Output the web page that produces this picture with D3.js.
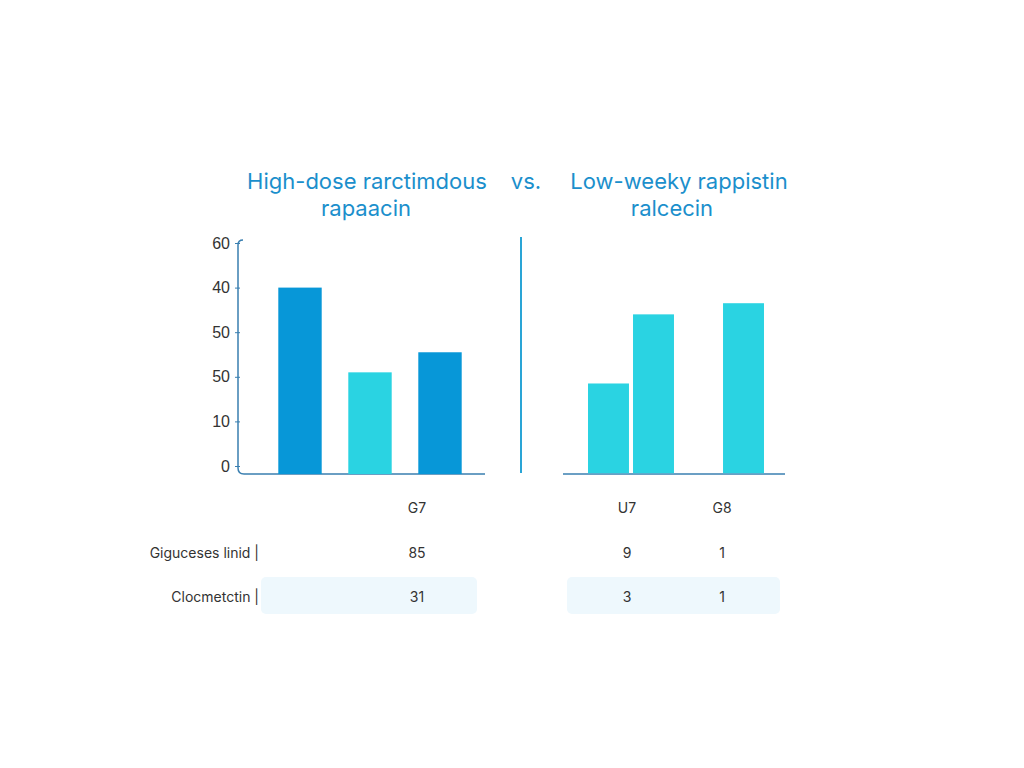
<!DOCTYPE html>
<html>
<head>
<meta charset="utf-8">
<script src="https://cdn.jsdelivr.net/npm/d3@7"></script>
<style>
  body { margin: 0; background: #fff; }
  svg { display: block; font-family: Inter, Roboto, "Noto Sans", sans-serif; }
</style>
</head>
<body>
<svg width="1024" height="768"></svg>
<script>
// ### Data ###
var leftCats = ['A1', 'A2', 'A3'];
var leftVals = [40, 21, 25.5];
var leftColors = ['#0797d8', '#2ad3e2', '#0797d8'];

var rightCats = ['B1', 'B2', '', 'B3'];
var rightVals = [18.5, 34, null, 36.5];

var tickVals = [0, 10, 20, 30, 40, 50];
var tickLabels = ['0', '10', '50', '50', '40', '60'];

var titleLeft = ['High-dose rarctimdous', 'rapaacin'];
var titleRight = ['Low-weeky rappistin', 'ralcecin'];

var colHeads = ['G7', 'U7', 'G8'];
var rowNames = ['Giguceses linid |', 'Clocmetctin |'];
var rowVals = [['85', '9', '1'], ['31', '3', '1']];

var svg = d3.select('svg');
var axisColor = '#3a7fb0';
var titleColor = '#1b8fcc';

// ### Titles ###
function title(x, y, s) {
  svg.append('text').attr('x', x).attr('y', y).attr('text-anchor', 'middle')
    .attr('font-size', 22).attr('fill', titleColor).text(s);
}
title(367, 189, titleLeft[0]);
title(366, 216, titleLeft[1]);
title(526, 189, 'vs.');
title(679, 189, titleRight[0]);
title(672, 216, titleRight[1]);

// ### Scales ###
var baseY = 474;
var yScale = d3.scaleLinear().domain([0, 50]).range([466, 243]);

var xLeft = d3.scaleBand().domain(leftCats).range([265, 475]).paddingInner(0.38).paddingOuter(0.19);
var xRight = d3.scaleBand().domain(rightCats).range([567, 785]).paddingInner(0.09).paddingOuter(0.467);

// ### Left axis ###
var yAxis = d3.axisLeft(yScale).tickValues(tickVals)
  .tickFormat((d, i) => tickLabels[i]).tickSize(3).tickSizeOuter(0);
var gy = svg.append('g').attr('transform', 'translate(238,0)').call(yAxis);
gy.select('.domain').remove();
gy.selectAll('line').attr('stroke', axisColor).attr('x2', 2).attr('x1', -3);
gy.selectAll('text').attr('font-size', 16).attr('fill', '#333').attr('x', -8);

svg.append('path')
  .attr('d', 'M243,240 Q238,240 238,245 V468 Q238,474 244,474 H485')
  .attr('fill', 'none').attr('stroke', axisColor).attr('stroke-width', 1.5);

// ### Left bars ###
svg.selectAll('rect.lbar')
  .data(leftVals)
  .enter()
  .append('rect')
  .attr('class', 'lbar')
  .attr('x', (d, i) => xLeft(leftCats[i]))
  .attr('width', xLeft.bandwidth())
  .attr('y', d => yScale(d))
  .attr('height', d => baseY - yScale(d))
  .attr('fill', (d, i) => leftColors[i]);

// ### Right panel ###
svg.append('line').attr('x1', 521).attr('x2', 521).attr('y1', 237).attr('y2', 473)
  .attr('stroke', '#2aa5d6').attr('stroke-width', 2);
svg.append('line').attr('x1', 563).attr('x2', 785).attr('y1', baseY).attr('y2', baseY)
  .attr('stroke', axisColor).attr('stroke-width', 1.5);

svg.selectAll('rect.rbar')
  .data(rightVals.map((v, i) => ({c: rightCats[i], v: v})).filter(d => d.v != null))
  .enter()
  .append('rect')
  .attr('class', 'rbar')
  .attr('x', d => xRight(d.c))
  .attr('width', xRight.bandwidth())
  .attr('y', d => yScale(d.v))
  .attr('height', d => baseY - yScale(d.v) - 0.75)
  .attr('fill', '#2ad3e2');

// ### Table ###
var colX = [417, 627, 722];
var rowY = [553, 597];

svg.append('rect').attr('x', 261).attr('y', 577).attr('width', 216).attr('height', 37)
  .attr('rx', 5).attr('fill', '#eef8fd');
svg.append('rect').attr('x', 567).attr('y', 577).attr('width', 213).attr('height', 37)
  .attr('rx', 5).attr('fill', '#eef8fd');

svg.selectAll('text.colhead')
  .data(colHeads)
  .enter()
  .append('text')
  .attr('class', 'colhead')
  .attr('x', (d, i) => colX[i])
  .attr('y', 508)
  .attr('dy', '0.35em')
  .attr('text-anchor', 'middle')
  .attr('font-size', 14)
  .attr('fill', '#333')
  .text(d => d);

svg.selectAll('text.rowname')
  .data(rowNames)
  .enter()
  .append('text')
  .attr('class', 'rowname')
  .attr('x', 259)
  .attr('y', (d, i) => rowY[i])
  .attr('dy', '0.35em')
  .attr('text-anchor', 'end')
  .attr('font-size', 14)
  .attr('fill', '#333')
  .text(d => d);

rowVals.forEach(function(row, r) {
  svg.selectAll('text.val' + r)
    .data(row)
    .enter()
    .append('text')
    .attr('class', 'val' + r)
    .attr('x', (d, i) => colX[i])
    .attr('y', rowY[r])
    .attr('dy', '0.35em')
    .attr('text-anchor', 'middle')
    .attr('font-size', 14)
    .attr('fill', '#333')
    .text(d => d);
});
</script>
</body>
</html>
